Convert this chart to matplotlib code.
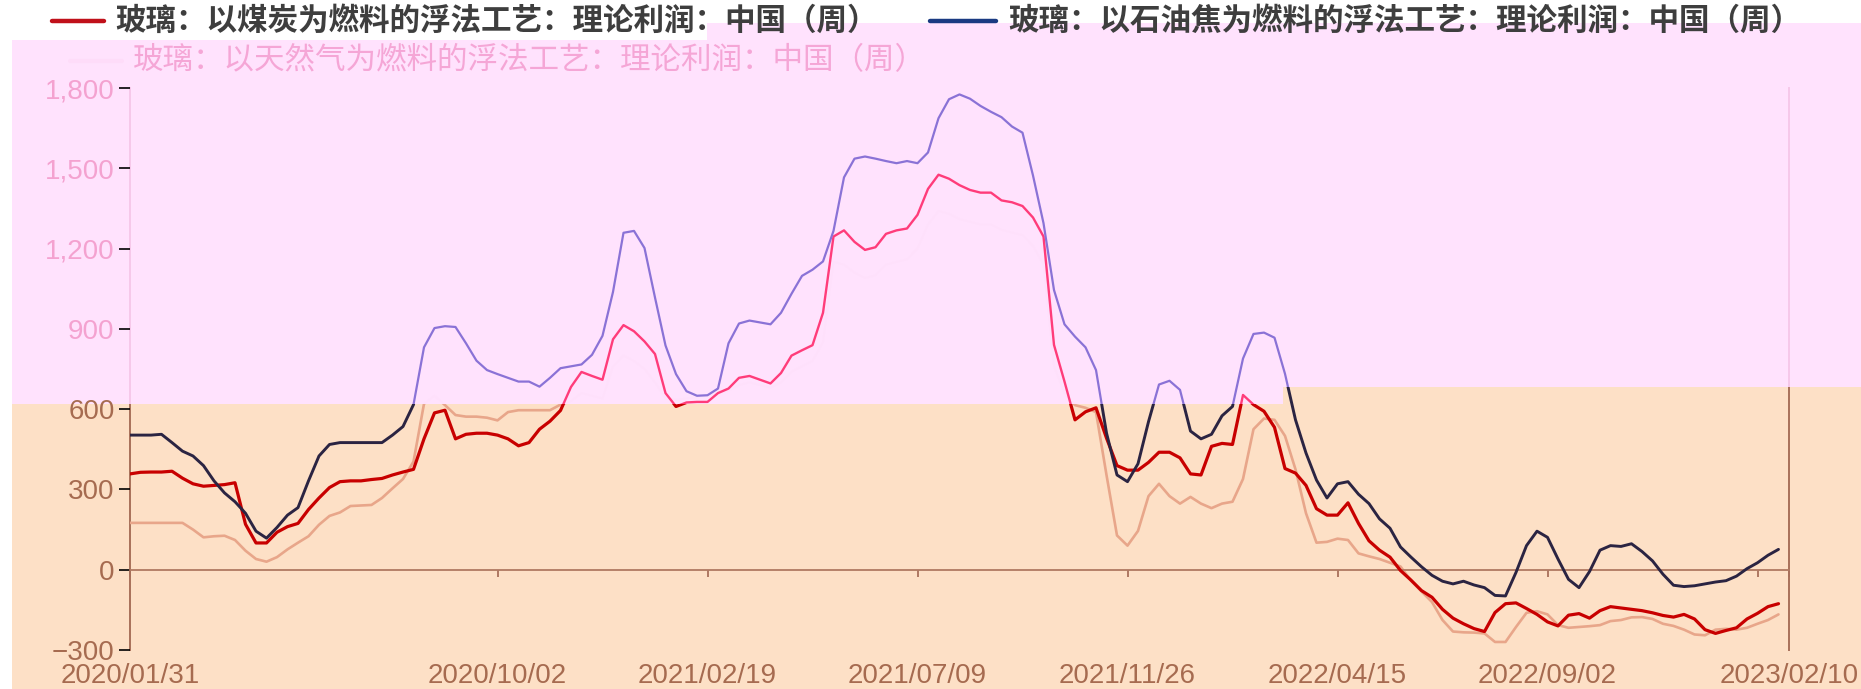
import matplotlib
matplotlib.use("Agg")
import matplotlib.pyplot as plt
from matplotlib.patches import Polygon
from matplotlib.lines import Line2D
import pandas as pd

W, H = 1861, 689

# weekly data, 2020/01/31 .. 2023/02/03
weeks = pd.date_range("2020-01-31", periods=158, freq="7D")

coal = [358, 364, 365, 365, 368, 342, 321, 312, 315, 318, 325, 170, 100, 100, 140, 161, 173, 225, 268, 307,
        329, 332, 332, 337, 341, 354, 365, 375, 489, 586, 596, 489, 506, 510, 510, 503, 489, 463, 475, 525,
        555, 595,
        683, 739, 724, 710, 861, 914, 891, 853, 806, 660, 610, 625, 627, 627, 660, 677, 717, 724,
        710, 696, 735, 800, 820, 839, 960, 1245, 1268, 1225, 1195, 1205, 1255, 1268, 1275, 1326, 1423, 1476,
        1461, 1437, 1419, 1409,
        1409, 1380, 1373, 1359, 1316, 1245, 840, 703, 560, 590, 605, 492, 389, 372, 372, 401, 439, 439,
        418, 358, 354, 461, 472, 468, 653, 617, 592, 532, 378, 361, 315, 228, 204, 204, 250, 173, 108, 73,
        47, -3,
        -39, -78, -103, -148, -181, -202, -220, -231, -160, -127, -124, -145, -167, -195, -210, -170, -164, -181,
        -153, -138, -143, -148, -153, -161, -171, -177, -167, -184, -224, -238, -227, -217, -184, -163, -138, -127]

petcoke = [503, 503, 503, 506, 475, 443, 425, 389, 332, 287, 254, 211, 144, 118, 158, 204, 232, 332, 425, 468,
           475, 475, 475, 475, 475, 503, 535, 617, 831, 903, 910, 907, 846, 781, 746, 731, 717, 703, 703, 684,
           717, 753,
           760, 767, 803, 874, 1038, 1259, 1266, 1202, 1017, 838, 731, 667, 650, 652, 677, 846, 920, 931,
           924, 917, 960, 1031, 1098, 1121, 1152, 1266, 1466, 1536, 1544, 1536, 1527, 1519, 1527, 1519, 1559, 1687,
           1758, 1776, 1760, 1733,
           1711, 1691, 1656, 1633, 1473, 1295, 1045, 917, 871, 831, 746, 511, 354, 329, 396, 553, 692, 706,
           672, 518, 489, 506, 575, 610, 789, 881, 886, 867, 732, 560, 436, 335, 268, 321, 329, 282, 247, 190,
           155, 85,
           47, 11, -21, -43, -53, -43, -57, -67, -96, -98, -10, 90, 144, 121, 40, -36, -67, -7,
           73, 90, 87, 97, 68, 33, -17, -58, -63, -60, -53, -46, -41, -24, 4, 26, 54, 76]

gas = [175, 175, 175, 175, 175, 175, 150, 121, 125, 127, 111, 71, 40, 30, 47, 76, 101, 125, 168, 201,
       214, 238, 240, 242, 268, 304, 339, 404, 620, 650, 615, 578, 572, 572, 568, 558, 589, 596, 596, 596,
       596, 617,
       630, 660, 650, 640, 760, 800, 780, 750, 700, 640, 635, 640, 645, 650, 660, 670, 690, 700,
       690, 680, 700, 740, 760, 780, 850, 1150, 1140, 1110, 1090, 1100, 1140, 1150, 1160, 1200, 1290, 1340,
       1330, 1310, 1300, 1290, 1290, 1270, 1260, 1250, 1210, 1140, 760, 660, 615, 605,
       589, 354, 128, 90, 145, 275, 321, 275, 247, 272, 247, 230, 247, 254, 339, 525, 565, 560,
       500, 375, 211, 101, 104, 116, 111, 61, 50, 40, 26, 12,
       -41, -81, -121, -188, -231, -234, -235, -238, -270, -270, -214, -161, -155, -167, -207, -217, -214, -211,
       -207, -192, -188, -178, -177, -184, -202, -210, -224, -242, -245, -224, -221, -224, -217, -202, -188, -167]

tick_dates = pd.to_datetime(["2020-01-31", "2020-10-02", "2021-02-19", "2021-07-09", "2021-11-26",
                             "2022-04-15", "2022-09-02", "2023-01-20", "2023-02-10"])
tick_labels = ["2020/01/31", "2020/10/02", "2021/02/19", "2021/07/09", "2021/11/26",
               "2022/04/15", "2022/09/02", "", "2023/02/10"]
y_ticks = [-300, 0, 300, 600, 900, 1200, 1500, 1800]
y_labels = ["\u2212300", "0", "300", "600", "900", "1,200", "1,500", "1,800"]

names = ["玻璃：以煤炭为燃料的浮法工艺：理论利润：中国（周）",
         "玻璃：以石油焦为燃料的浮法工艺：理论利润：中国（周）",
         "玻璃：以天然气为燃料的浮法工艺：理论利润：中国（周）"]

PINK_BG = "#ffe2fd"
PEACH_BG = "#fde0c6"
BROWN = "#a66b50"
PINK_TXT = "#f4a2d0"
NUM_FONT = ["Liberation Sans", "DejaVu Sans"]
CJK_FONT = ["Noto Sans CJK SC", "DejaVu Sans"]


def fx(x):
    return x / W


def fy(y):
    return 1 - y / H


fig = plt.figure(figsize=(W / 100, H / 100), dpi=100)
fig.patch.set_facecolor("white")

pink_px = [(12, 40), (707, 40), (707, 23), (1861, 23), (1861, 387), (1283, 387), (1283, 404), (12, 404)]
peach_px = [(12, 404), (1283, 404), (1283, 387), (1861, 387), (1861, 689), (12, 689)]
pink = Polygon([(fx(a), fy(b)) for a, b in pink_px], closed=True, transform=fig.transFigure,
               facecolor=PINK_BG, edgecolor="none", zorder=-10)
peach = Polygon([(fx(a), fy(b)) for a, b in peach_px], closed=True, transform=fig.transFigure,
                facecolor=PEACH_BG, edgecolor="none", zorder=-10)
fig.add_artist(pink)
fig.add_artist(peach)

ax = fig.add_axes([fx(130), fy(650), 1659 / W, 562 / H])
ax.patch.set_visible(False)
ax.set_xlim(weeks[0], pd.Timestamp("2023-02-10"))
ax.set_ylim(-300, 1800)


def two_tone(x, y, c_low, c_high, lw_low, lw_high, z):
    lo, = ax.plot(x, y, color=c_low, lw=lw_low, zorder=z, solid_joinstyle="round", solid_capstyle="round")
    lo.set_clip_path(peach)
    hi, = ax.plot(x, y, color=c_high, lw=lw_high, zorder=z, solid_joinstyle="round", solid_capstyle="round")
    hi.set_clip_path(pink)


two_tone(weeks, gas, "#e8a68a", "#fee0fb", 1.9, 1.2, 2)
two_tone(weeks, coal, "#c80000", "#ff3c7a", 2.3, 1.7, 3)
two_tone(weeks, petcoke, "#2b2442", "#8a72d6", 2.1, 1.6, 4)

# frame
for s in ["top", "left", "right"]:
    ax.spines[s].set_visible(False)
ax.spines["bottom"].set_position(("data", 0))
ax.spines["bottom"].set_color("#b07a62")
ax.spines["bottom"].set_linewidth(1.3)

for xv in ax.get_xlim():
    for col, reg in [("#a8705a", peach), ("#f6c8ea", pink)]:
        vl = ax.axvline(xv, color=col, lw=1.4, zorder=1)
        vl.set_clip_box(None)
        vl.set_clip_path(reg)

ax.set_xticks(tick_dates)
ax.set_xticklabels(tick_labels, fontfamily=NUM_FONT)
ax.tick_params(axis="x", direction="out", length=5, width=1.3, color="#a8705a",
               pad=62, labelsize=20, labelcolor=BROWN)

ax.set_yticks(y_ticks)
ax.set_yticklabels(y_labels, fontfamily=NUM_FONT)
ax.tick_params(axis="y", direction="out", length=8, width=1.2, pad=3, labelsize=20)
for t, v in zip(ax.yaxis.get_major_ticks(), y_ticks):
    if v >= 900:
        t.tick1line.set_color("#f6c8ea")
        t.label1.set_color(PINK_TXT)
    else:
        t.tick1line.set_color("#a8705a")
        t.label1.set_color(BROWN)

# legend
fig.add_artist(Line2D([fx(52), fx(104)], [fy(21), fy(21)], color="#c0101a", lw=3.2,
                      transform=fig.transFigure, solid_capstyle="round"))
fig.add_artist(Line2D([fx(930), fx(996)], [fy(21), fy(21)], color="#1a3a82", lw=3.2,
                      transform=fig.transFigure, solid_capstyle="round"))
fig.add_artist(Line2D([fx(70), fx(122)], [fy(61), fy(61)], color="#fedcf9", lw=3.0,
                      transform=fig.transFigure, solid_capstyle="round"))

fig.text(fx(115), fy(21), names[0], fontsize=22, color="#3e3e3e", fontweight="bold",
         family=CJK_FONT, va="center", ha="left", zorder=5)
fig.text(fx(1008), fy(21), names[1], fontsize=22, color="#3e3e3e", fontweight="bold",
         family=CJK_FONT, va="center", ha="left", zorder=5)
fig.text(fx(133), fy(61), names[2], fontsize=22, color="#f5a6d6",
         family=CJK_FONT, va="center", ha="left", zorder=5)

fig.savefig("out.png", dpi=100)
